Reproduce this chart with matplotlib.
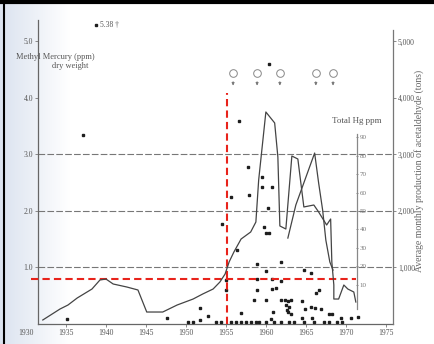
import numpy as np
import matplotlib
matplotlib.use('Agg')
import matplotlib.pyplot as plt
from matplotlib.lines import Line2D

plt.rcParams['font.family'] = ['Liberation Serif', 'DejaVu Serif']

# acetaldehyde production (tons / month)
prod_years = [1932.1, 1934.25, 1935.25, 1936.4, 1938.25, 1939.25, 1940.0, 1940.9, 1942.6,
              1944.0, 1945.1, 1947.1, 1948.9, 1950.9, 1952.1, 1953.4, 1954.25, 1954.9,
              1955.4, 1956.0, 1956.9, 1958.1, 1958.75, 1959.1, 1960.0, 1961.1, 1961.5,
              1961.75, 1962.5, 1963.25, 1964.0, 1964.75, 1966.0, 1966.6, 1967.6, 1968.1,
              1968.25, 1968.5, 1968.5, 1969.1, 1969.75, 1970.25, 1971.0, 1971.25]
prod_tons = [71, 265, 336, 460, 619, 779, 796, 708, 655,
             602, 212, 212, 336, 442, 531, 619, 743, 885,
             1097, 1274, 1504, 1628, 1805, 2549, 3752, 3558, 2956,
             1735, 1681, 2973, 2920, 2071, 2106, 1982, 1752, 1858,
             1097, 690, 442, 442, 690, 619, 566, 389]

# total Hg line (inner scale, ppm)
hg_years = [1962.75, 1963.75, 1966.1, 1966.6, 1967.1, 1967.5, 1968.0, 1968.4]
hg_ppm = [35.3, 53.3, 81.5, 65.2, 50.5, 34.2, 22.3, 17.9]

# methyl mercury in samples (ppm, dry weight)
dot_years = [1937.1, 1935.1, 1947.6, 1951.75, 1952.75, 1950.25, 1950.9, 1951.75,
             1954.5, 1955.6, 1956.6, 1957.75, 1957.9, 1959.5, 1959.5, 1960.75, 1960.25,
             1959.75, 1960.0, 1960.4, 1956.4, 1958.9, 1960.0, 1961.9, 1964.75, 1965.6,
             1955.0, 1958.9, 1960.75, 1961.9, 1955.0, 1958.9, 1960.75, 1961.25,
             1958.5, 1960.0, 1961.9, 1962.4, 1962.75, 1963.1, 1964.5, 1966.25, 1966.6,
             1962.5, 1962.9, 1962.6, 1956.9, 1960.9, 1964.9, 1965.6, 1966.1, 1966.9,
             1962.75, 1963.1, 1967.9, 1968.25, 1960.6, 1964.5, 1965.75, 1969.4, 1970.6,
             1971.5, 1953.75, 1954.4, 1955.6, 1956.25, 1956.9, 1957.5, 1958.1, 1958.75,
             1959.1, 1960.0, 1961.0, 1961.9, 1962.9, 1963.5, 1964.75, 1966.0, 1967.25,
             1967.9, 1968.9, 1969.5, 1960.4]
dot_ppm = [3.35, 0.09, 0.11, 0.28, 0.14, 0.04, 0.04, 0.07,
           1.77, 2.25, 3.59, 2.78, 2.28, 2.60, 2.42, 2.42, 2.05,
           1.72, 1.61, 1.61, 1.31, 1.06, 0.94, 1.10, 0.96, 0.90,
           0.78, 0.80, 0.80, 0.76, 0.60, 0.60, 0.62, 0.64,
           0.42, 0.42, 0.42, 0.42, 0.41, 0.42, 0.41, 0.55, 0.60,
           0.34, 0.30, 0.25, 0.19, 0.21, 0.27, 0.30, 0.28, 0.27,
           0.21, 0.18, 0.18, 0.18, 0.09, 0.11, 0.11, 0.11, 0.11,
           0.12, 0.035, 0.035, 0.035, 0.035, 0.035, 0.035, 0.035, 0.035,
           0.035, 0.035, 0.035, 0.035, 0.035, 0.035, 0.035, 0.035, 0.035,
           0.035, 0.035, 0.035, 4.60]
offscale_year, offscale_ppm, offscale_label = 1938.75, 5.29, '5.38 \u2020'

patient_years = [1955.9, 1958.9, 1961.75, 1966.25, 1968.4]

x_ticks = [1935, 1940, 1945, 1950, 1955, 1960, 1965, 1970, 1975]
left_ticks = [1.0, 2.0, 3.0, 4.0, 5.0]
right_ticks = [1000, 2000, 3000, 4000, 5000]
hg_ticks = [10, 20, 30, 40, 50, 60, 70, 80, 90]
grid_levels = [1.0, 2.0, 3.0]

limit_ppm = 0.8
limit_year = 1955.1

txt = '#555555'
line_c = '#444444'

fig = plt.figure(figsize=(4.34, 3.44), dpi=100)

# scanned-page tint on the left edge
bg = fig.add_axes([0, 0, 1, 1], zorder=-5)
grad = np.clip(np.linspace(0, 1, 434) / 0.16, 0, 1)
img = np.ones((1, 434, 3))
base = np.array([0.86, 0.89, 0.94])
img[0] = base + (1 - base) * grad[:, None]
bg.imshow(img, aspect='auto', extent=[0, 1, 0, 1])
bg.axis('off')

ax = fig.add_axes([38 / 434, 20 / 344, 355 / 434, 304 / 344])
ax.set_xlim(1931.5, 1975.9)
ax.set_ylim(0, 5.38)
ax.patch.set_alpha(0)

for s in ['top', 'right']:
    ax.spines[s].set_visible(False)
for s in ['left', 'bottom']:
    ax.spines[s].set_color('#666666')
    ax.spines[s].set_linewidth(0.9)

ax.set_xticks(x_ticks)
ax.set_xticklabels([str(v) for v in x_ticks])
ax.set_yticks(left_ticks)
ax.set_yticklabels(['%.1f' % v for v in left_ticks])
ax.tick_params(axis='both', labelsize=5.5, labelcolor=txt, color='#777777',
               length=2, width=0.6, pad=1.5)
ax.annotate('1930', xy=(1930, 0), xytext=(0, -3.5), textcoords='offset points',
            ha='center', va='top', fontsize=5.5, color=txt, annotation_clip=False)

for lv in grid_levels:
    ax.axhline(lv, color='#777777', lw=0.8, ls=(0, (6, 2)), zorder=1)

# production on right axis
ax2 = ax.twinx()
ax2.set_ylim(0, 5380)
for s in ['top', 'left', 'bottom']:
    ax2.spines[s].set_visible(False)
ax2.spines['right'].set_color('#777777')
ax2.spines['right'].set_linewidth(0.9)
ax2.spines['right'].set_bounds(0, 5200)
ax2.set_yticks(right_ticks)
ax2.set_yticklabels(['{:,}'.format(v) for v in right_ticks])
ax2.tick_params(axis='y', labelsize=5.5, labelcolor=txt, color='#777777',
                length=2, width=0.6, pad=1.5)
ax2.plot(prod_years, prod_tons, color=line_c, lw=0.9, zorder=3)

# inner total Hg scale
axh = ax.twinx()
axh.set_ylim(-11.4, 153.8)
for s in ['top', 'left', 'bottom']:
    axh.spines[s].set_visible(False)
axh.spines['right'].set_position(('data', 1971.4))
axh.spines['right'].set_bounds(-3, 92)
axh.spines['right'].set_color('#888888')
axh.spines['right'].set_linewidth(0.9)
axh.set_yticks(hg_ticks)
axh.set_yticklabels([str(v) for v in hg_ticks])
axh.tick_params(axis='y', labelsize=5, labelcolor='#777777', color='#777777',
                length=2, width=0.6, pad=1, direction='inout')
axh.plot(hg_years, hg_ppm, color=line_c, lw=0.9, zorder=3)
axh.text(1971.4, 97, 'Total Hg ppm', ha='center', va='bottom', fontsize=6.5, color=txt)

# sample points
ax.plot(dot_years, dot_ppm, ls='none', marker='s', ms=1.9, color='#1e1e1e', zorder=4,
        clip_on=False)
ax.plot([offscale_year], [offscale_ppm], ls='none', marker='s', ms=1.9, color='#1e1e1e')
ax.annotate(offscale_label, xy=(offscale_year, offscale_ppm), xytext=(3, 0),
            textcoords='offset points', va='center', fontsize=5.5, color=txt)

# patient symbols
ax.plot(patient_years, [4.45] * len(patient_years), ls='none', marker='o', ms=5.5,
        mfc='white', mec='#888888', mew=0.7, zorder=5)
for yr in patient_years:
    ax.annotate('', xy=(yr, 4.17), xytext=(yr, 4.34),
                arrowprops=dict(arrowstyle='-|>', lw=0.6, color='#777777', mutation_scale=4))

# red reference lines
ax.plot([1930.6, 1971.25], [limit_ppm, limit_ppm], color='#e8231b', lw=1.5,
        ls=(0, (3.5, 2)), clip_on=False, zorder=6)
ax.plot([limit_year, limit_year], [0, 4.09], color='#e8231b', lw=1.5,
        ls=(0, (3.5, 2)), clip_on=False, zorder=6)

# axis titles
fig.text(55 / 434, 1 - 57 / 344, 'Methyl Mercury (ppm)', ha='center', va='center',
         fontsize=6, color=txt)
fig.text(70 / 434, 1 - 66 / 344, 'dry weight', ha='center', va='center',
         fontsize=6, color=txt)
fig.text(419 / 434, 1 - 171 / 344, 'Average monthly production of acetaldehyde (tons)',
         rotation=90, ha='center', va='center', fontsize=7, color='#666666')

# page border of the scan
fig.add_artist(Line2D([0, 1], [1 - 2 / 344] * 2, lw=3, color='black'))
fig.add_artist(Line2D([4 / 434] * 2, [0, 1], lw=1.5, color='black'))

fig.savefig('out.png', dpi=100)
